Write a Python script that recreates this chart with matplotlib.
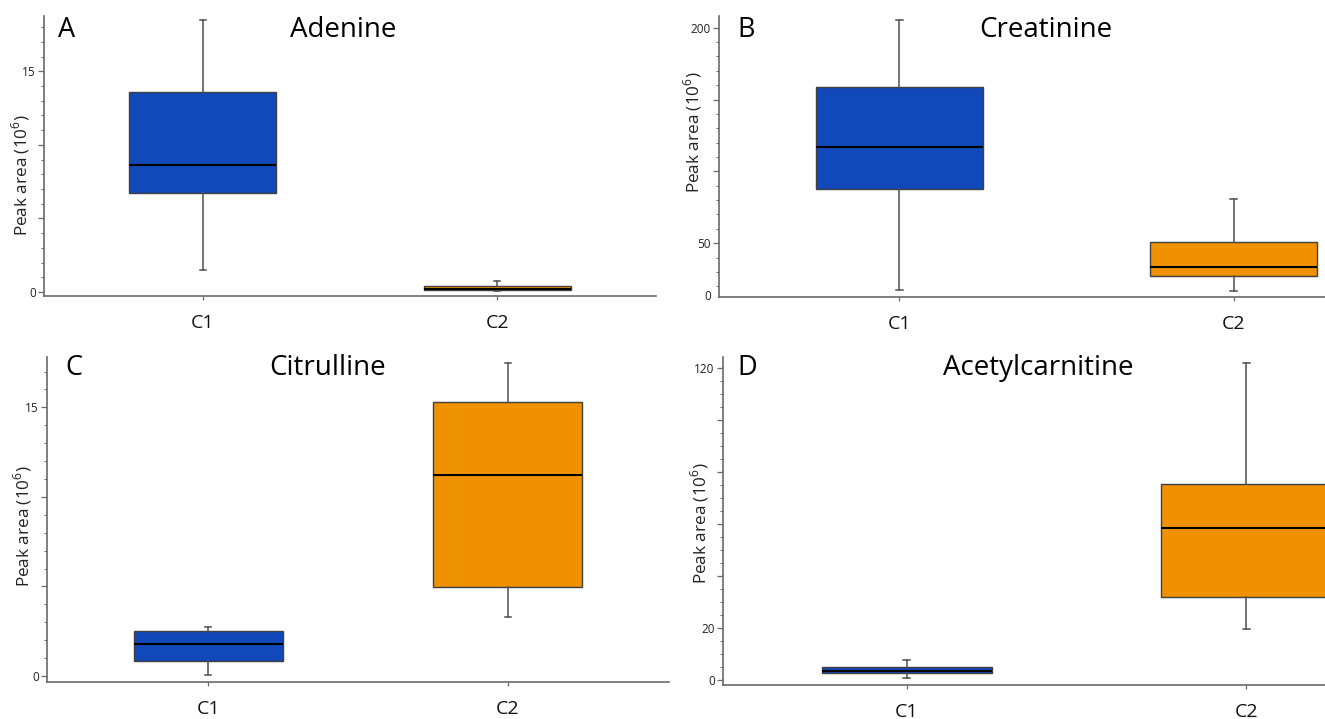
import matplotlib
matplotlib.use("Agg")
import matplotlib.pyplot as plt
from matplotlib.ticker import FixedLocator, FixedFormatter, MultipleLocator

plt.rcParams['font.family'] = ['Open Sans', 'DejaVu Sans']
plt.rcParams['mathtext.fontset'] = 'custom'
plt.rcParams['mathtext.rm'] = 'Open Sans'

# ---------------- data (peak area, 10^6) ----------------
groups = ["C1", "C2"]
panel_letters = ["A", "B", "C", "D"]
metabolites = ["Adenine", "Creatinine", "Citrulline", "Acetylcarnitine"]

# five-number summaries per group: [C1, C2]
adenine_whislo = [1.5, 0.05]
adenine_q1 = [6.7, 0.14]
adenine_med = [8.6, 0.22]
adenine_q3 = [13.6, 0.43]
adenine_whishi = [18.5, 0.77]

creatinine_whislo = [17.3, 16.8]
creatinine_q1 = [88.0, 27.4]
creatinine_med = [117.0, 33.7]
creatinine_q3 = [158.5, 50.7]
creatinine_whishi = [205.0, 80.8]

citrulline_whislo = [0.06, 3.3]
citrulline_q1 = [0.84, 4.95]
citrulline_med = [1.8, 11.2]
citrulline_q3 = [2.5, 15.3]
citrulline_whishi = [2.75, 17.5]

acetylcarnitine_whislo = [0.6, 19.7]
acetylcarnitine_q1 = [2.6, 31.8]
acetylcarnitine_med = [3.5, 58.6]
acetylcarnitine_q3 = [5.1, 75.3]
acetylcarnitine_whishi = [7.7, 122.0]

W, H = 1325, 719
fig = plt.figure(figsize=(W / 100, H / 100), dpi=100)

def rect(l, r, t, b):
    return [l / W, (H - b) / H, (r - l) / W, (b - t) / H]

blue = "#1148BA"
orange = "#F09100"
spine_c = "#6a6a6a"
whisk_c = "#505050"

panels = [
    dict(rect=rect(44, 656, 16, 296), ylim=(-0.27, 18.76),
         stats=(adenine_whislo, adenine_q1, adenine_med, adenine_q3, adenine_whishi),
         major=[0, 5, 10, 15], labels=["0", "", "", "15"], minor=1,
         ylab=(-0.020, 0.432), letter=(58, 30), title=(343, 30)),
    dict(rect=rect(719, 1414, 16, 296.7), ylim=(12.8, 208.1),
         stats=(creatinine_whislo, creatinine_q1, creatinine_med, creatinine_q3, creatinine_whishi),
         major=[50, 100, 150, 200], labels=["50", "", "", "200"], minor=10,
         ylab=(-0.021, 0.585), letter=(737, 30), title=(1046, 30), zero=True),
    dict(rect=rect(47, 669, 356.7, 681.7), ylim=(-0.32, 17.83),
         stats=(citrulline_whislo, citrulline_q1, citrulline_med, citrulline_q3, citrulline_whishi),
         major=[0, 5, 10, 15], labels=["0", "", "", "15"], minor=1,
         ylab=(-0.021, 0.479), letter=(65, 368), title=(328, 368)),
    dict(rect=rect(723, 1430, 356.7, 685), ylim=(-1.9, 124.3),
         stats=(acetylcarnitine_whislo, acetylcarnitine_q1, acetylcarnitine_med,
                acetylcarnitine_q3, acetylcarnitine_whishi),
         major=[0, 20, 40, 60, 80, 100, 120], labels=["0", "20", "", "", "", "", "120"], minor=5,
         ylab=(-0.017, 0.493), letter=(737, 368), title=(1038, 368)),
]

for i, p in enumerate(panels):
    ax = fig.add_axes(p["rect"])
    wl, q1, md, q3, wh = p["stats"]
    bstats = []
    for g in range(len(groups)):
        bstats.append(dict(label=groups[g], whislo=wl[g], q1=q1[g], med=md[g],
                           q3=q3[g], whishi=wh[g], fliers=[]))
    bp = ax.bxp(bstats, positions=[1, 2], widths=0.5, patch_artist=True,
                showfliers=False, capwidths=0.02,
                boxprops=dict(edgecolor="#404040", linewidth=1.0),
                medianprops=dict(color="black", linewidth=1.5),
                whiskerprops=dict(color=whisk_c, linewidth=1.1),
                capprops=dict(color=whisk_c, linewidth=1.1))
    for patch, col in zip(bp["boxes"], [blue, orange]):
        patch.set_facecolor(col)
    ax.set_xlim(0.46, 2.54)
    ax.set_ylim(*p["ylim"])
    for s in ["top", "right"]:
        ax.spines[s].set_visible(False)
    for s in ["left", "bottom"]:
        ax.spines[s].set_color(spine_c)
        ax.spines[s].set_linewidth(1.2)
    ax.yaxis.set_major_locator(FixedLocator(p["major"]))
    ax.yaxis.set_major_formatter(FixedFormatter(p["labels"]))
    ax.yaxis.set_minor_locator(MultipleLocator(p["minor"]))
    ax.tick_params(axis="y", which="major", length=4, width=0.9, color=spine_c,
                   labelsize=8.5, labelcolor="#222222", pad=2)
    ax.tick_params(axis="y", which="minor", length=2.2, width=0.7, color=spine_c)
    ax.tick_params(axis="x", which="major", length=3, width=0.9, color=spine_c,
                   labelsize=14, labelcolor="#111111", pad=10)
    ax.set_xticks([1, 2])
    ax.set_xticklabels(groups)
    ax.set_ylabel("Peak area (10$^{6}$)", fontsize=12.3, color="#222222")
    ax.yaxis.set_label_coords(*p["ylab"])
    if p.get("zero"):
        ax.text(-0.012, 0.0, "0", transform=ax.transAxes, ha="right", va="center",
                fontsize=8.5, color="#222222")
    lx, ly = p["letter"]
    fig.text(lx / W, 1 - ly / H, panel_letters[i], fontsize=19.5, ha="left", va="center")
    tx, ty = p["title"]
    fig.text(tx / W, 1 - ty / H, metabolites[i], fontsize=20, ha="center", va="center")

fig.savefig("out.png", dpi=100)
